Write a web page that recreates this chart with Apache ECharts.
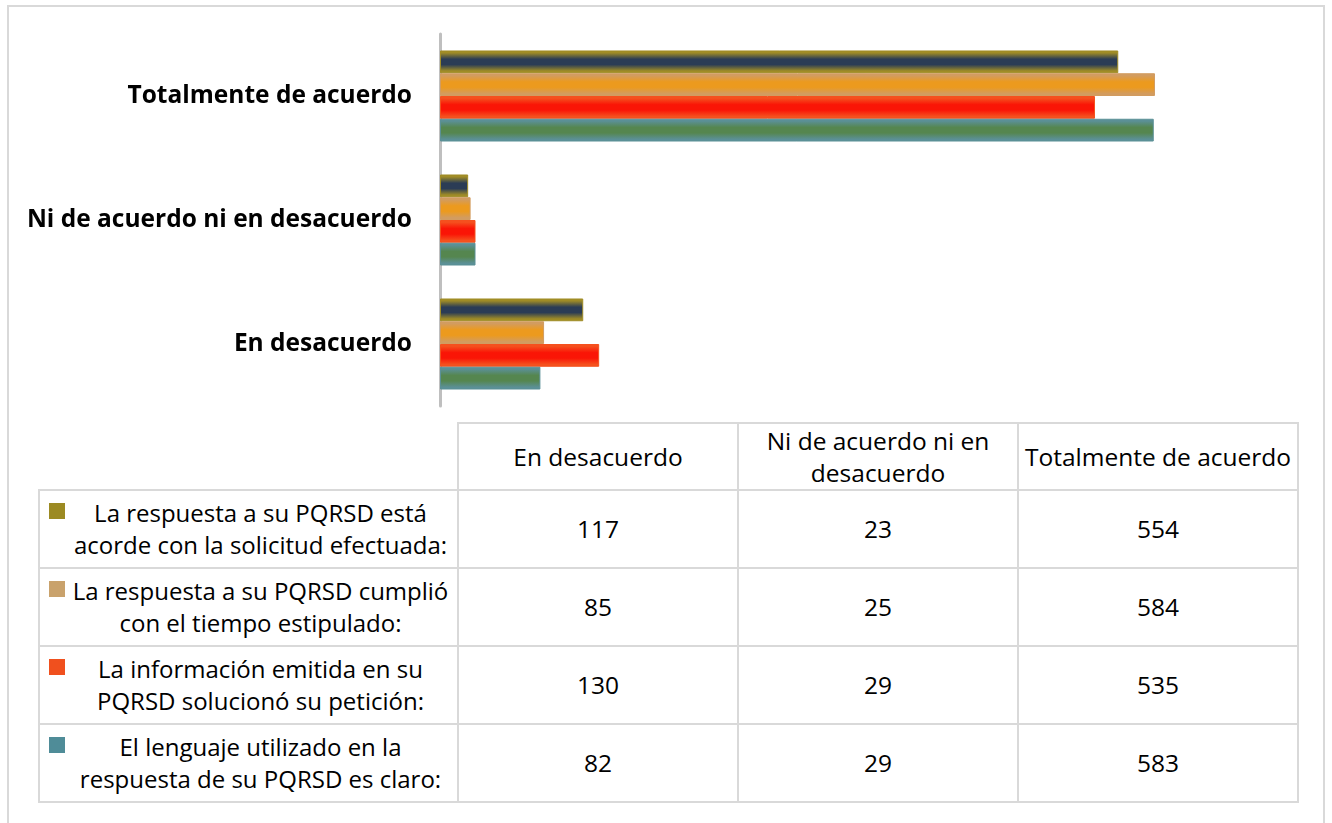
<!DOCTYPE html>
<html lang="es">
<head>
    <meta charset="UTF-8">
    <title>Satisfacción PQRSD</title>
    <script src="https://cdn.jsdelivr.net/npm/echarts@6/dist/echarts.min.js"></script>
    <style>
        html, body { margin: 0; padding: 0; background: #fff; }
        body { width: 1332px; height: 823px; position: relative; overflow: hidden; font-family: "Open Sans", Lato, sans-serif; }
        #marco { position: absolute; left: 7px; top: 5px; width: 1318px; height: 830px; border: 2px solid #d9d9d9; box-sizing: border-box; }
        #grafico { position: absolute; left: 0; top: 0; width: 1332px; height: 420px; }
        #tabla { position: absolute; left: 38px; top: 422px; border-collapse: collapse; color: #000; font-size: 24.5px; }
        #tabla td { border: 2px solid #d9d9d9; text-align: center; vertical-align: middle; padding: 0; line-height: 32px; }
        #tabla td.vacio { border-top: none; border-left: none; }
        #tabla td.serie { text-align: left; position: relative; font-size: 24px; }
        #tabla td.serie span.clave { position: absolute; left: 9px; top: 12px; width: 16px; height: 16px; }
        #tabla td.serie div { margin-left: 30px; margin-right: 6px; text-align: center; white-space: nowrap; }
    </style>
</head>
<body>
<div id="marco"></div>
<div id="grafico"></div>
<table id="tabla"></table>
<script type="text/javascript">
    // categorias (de abajo hacia arriba en el grafico, igual que las columnas de la tabla)
    const categorias = ['En desacuerdo', 'Ni de acuerdo ni en desacuerdo', 'Totalmente de acuerdo'];
    const encabezados = ['En desacuerdo', 'Ni de acuerdo ni en<br>desacuerdo', 'Totalmente de acuerdo'];

    const nombresSeries = [
        'La respuesta a su PQRSD está acorde con la solicitud efectuada:',
        'La respuesta a su PQRSD cumplió con el tiempo estipulado:',
        'La información emitida en su PQRSD solucionó su petición:',
        'El lenguaje utilizado en la respuesta de su PQRSD es claro:'
    ];
    const nombresTabla = [
        'La respuesta a su PQRSD está<br>acorde con la solicitud efectuada:',
        'La respuesta a su PQRSD cumplió<br>con el tiempo estipulado:',
        'La información emitida en su<br>PQRSD solucionó su petición:',
        'El lenguaje utilizado en la<br>respuesta de su PQRSD es claro:'
    ];

    const acordeSolicitud = [117, 23, 554];
    const tiempoEstipulado = [85, 25, 584];
    const solucionoPeticion = [130, 29, 535];
    const lenguajeClaro = [82, 29, 583];
    const valores = [acordeSolicitud, tiempoEstipulado, solucionoPeticion, lenguajeClaro];

    // centro y borde (brillo) de cada barra, y color de la clave en la tabla
    const centros = ['#2b3c55', '#ec9a1e', '#fa1506', '#55864f'];
    const bordes = ['#a08c26', '#d29c60', '#f5501e', '#5b9096'];
    const claves = ['#9c8a22', '#c9a26c', '#f0501e', '#4f8c98'];

    function relleno(i) {
        return new echarts.graphic.LinearGradient(0, 0, 0, 1, [
            {offset: 0, color: bordes[i]},
            {offset: 0.1, color: bordes[i]},
            {offset: 0.38, color: centros[i]},
            {offset: 0.62, color: centros[i]},
            {offset: 0.9, color: bordes[i]},
            {offset: 1, color: bordes[i]}
        ]);
    }

    let series = [];
    // en ECharts la primera serie queda arriba de cada grupo
    for (let i = 0; i < valores.length; i++) {
        series.push({
            name: nombresSeries[i],
            type: 'bar',
            data: valores[i],
            barGap: '0%',
            barCategoryGap: '26.6%',
            itemStyle: {color: relleno(i), borderColor: bordes[i], borderWidth: 1}
        });
    }

    const chart = echarts.init(document.getElementById('grafico'));
    chart.setOption({
        animation: false,
        grid: {left: 440, top: 34, width: 857, height: 372, containLabel: false},
        xAxis: {
            type: 'value', min: 0, max: 700, show: false
        },
        yAxis: {
            type: 'category',
            data: categorias,
            offset: 2,
            axisLine: {show: true, lineStyle: {color: '#bfbfbf', width: 3}},
            axisTick: {show: false},
            axisLabel: {
                margin: 26,
                color: '#000',
                fontSize: 24.5,
                fontWeight: 'bold',
                fontFamily: 'Open Sans'
            }
        },
        series: series
    });

    // tabla de datos
    let html = '<tr><td class="vacio" style="width:418px;height:66px"></td>';
    encabezados.forEach(e => { html += '<td style="width:278px">' + e + '</td>'; });
    html += '</tr>';
    valores.forEach((fila, i) => {
        html += '<tr><td class="serie" style="height:76px"><span class="clave" style="background:' + claves[i] + '"></span><div>' + nombresTabla[i] + '</div></td>';
        fila.forEach(v => { html += '<td>' + v + '</td>'; });
        html += '</tr>';
    });
    document.getElementById('tabla').innerHTML = html;
</script>
</body>
</html>
